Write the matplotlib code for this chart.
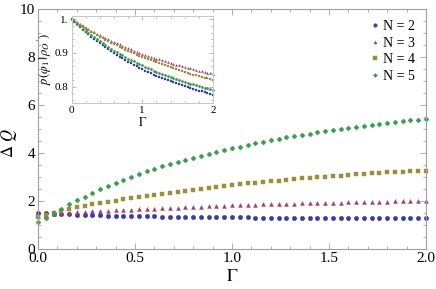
import numpy as np
import matplotlib
matplotlib.use("Agg")
import matplotlib.pyplot as plt
from matplotlib.ticker import MultipleLocator

plt.rcParams["font.family"] = ["Liberation Serif", "DejaVu Serif"]
plt.rcParams["mathtext.fontset"] = "stix"

# Gamma grid (0 .. 2, step 0.04)
gamma = np.linspace(0.0, 2.0, 51)

# main panel: Delta Q
dq_n2 = [1.49, 1.49, 1.47, 1.45, 1.44, 1.43, 1.42, 1.41, 1.40, 1.39, 1.39,
         1.38, 1.37, 1.37, 1.36, 1.36, 1.35, 1.35, 1.34, 1.34, 1.34,
         1.33, 1.33, 1.33, 1.32, 1.32, 1.32, 1.32, 1.31, 1.31, 1.31,
         1.31, 1.31, 1.30, 1.30, 1.30, 1.30, 1.30, 1.29, 1.29, 1.29,
         1.29, 1.29, 1.29, 1.28, 1.28, 1.28, 1.28, 1.28, 1.28, 1.28]
dq_n3 = [1.38, 1.42, 1.45, 1.48, 1.50, 1.53, 1.55, 1.57, 1.58, 1.60, 1.61,
         1.63, 1.64, 1.65, 1.67, 1.68, 1.70, 1.71, 1.72, 1.74, 1.75,
         1.77, 1.78, 1.79, 1.81, 1.82, 1.83, 1.84, 1.85, 1.86, 1.87,
         1.87, 1.88, 1.89, 1.90, 1.91, 1.91, 1.92, 1.93, 1.93, 1.94,
         1.95, 1.95, 1.96, 1.97, 1.97, 1.98, 1.98, 1.99, 1.99, 2.00]
dq_n4 = [1.35, 1.41, 1.49, 1.57, 1.65, 1.73, 1.80, 1.86, 1.92, 1.97, 2.02,
         2.07, 2.11, 2.15, 2.19, 2.23, 2.28, 2.32, 2.37, 2.41, 2.45,
         2.49, 2.54, 2.58, 2.63, 2.68, 2.71, 2.74, 2.76, 2.79, 2.82,
         2.85, 2.88, 2.91, 2.94, 2.96, 2.99, 3.01, 3.04, 3.06, 3.08,
         3.11, 3.13, 3.15, 3.17, 3.19, 3.21, 3.22, 3.24, 3.25, 3.26]
dq_n5 = [1.11, 1.30, 1.49, 1.68, 1.86, 2.03, 2.18, 2.33, 2.48, 2.63, 2.77,
         2.89, 3.01, 3.13, 3.24, 3.34, 3.44, 3.53, 3.62, 3.71, 3.80,
         3.88, 3.96, 4.03, 4.12, 4.20, 4.27, 4.34, 4.41, 4.47, 4.53,
         4.59, 4.65, 4.70, 4.76, 4.81, 4.86, 4.91, 4.96, 5.01, 5.05,
         5.10, 5.14, 5.18, 5.22, 5.26, 5.29, 5.33, 5.36, 5.39, 5.42]

# inset: fidelity p(phi_1 | rho_O')
p_n2 = [1.000, 0.992, 0.984, 0.977, 0.969, 0.962, 0.955, 0.948, 0.941, 0.935, 0.929,
        0.922, 0.916, 0.911, 0.905, 0.900, 0.894, 0.889, 0.884, 0.879, 0.874,
        0.869, 0.865, 0.861, 0.856, 0.852, 0.848, 0.844, 0.840, 0.836, 0.833,
        0.829, 0.826, 0.822, 0.819, 0.816, 0.813, 0.810, 0.807, 0.804, 0.801,
        0.798, 0.796, 0.793, 0.791, 0.788, 0.786, 0.784, 0.781, 0.779, 0.777]
p_n3 = [1.000, 0.995, 0.990, 0.985, 0.980, 0.975, 0.970, 0.966, 0.961, 0.957, 0.952,
        0.948, 0.944, 0.940, 0.936, 0.932, 0.928, 0.925, 0.921, 0.918, 0.914,
        0.911, 0.907, 0.904, 0.901, 0.898, 0.895, 0.892, 0.889, 0.886, 0.883,
        0.881, 0.878, 0.875, 0.873, 0.870, 0.868, 0.865, 0.863, 0.861, 0.859,
        0.856, 0.854, 0.852, 0.850, 0.848, 0.846, 0.844, 0.842, 0.841, 0.839]
p_n4 = [1.000, 0.994, 0.989, 0.983, 0.978, 0.973, 0.968, 0.963, 0.958, 0.953, 0.948,
        0.944, 0.939, 0.935, 0.930, 0.926, 0.922, 0.918, 0.914, 0.910, 0.906,
        0.902, 0.899, 0.895, 0.892, 0.888, 0.885, 0.881, 0.878, 0.875, 0.872,
        0.869, 0.866, 0.863, 0.860, 0.857, 0.854, 0.852, 0.849, 0.846, 0.844,
        0.841, 0.839, 0.836, 0.834, 0.832, 0.830, 0.827, 0.825, 0.823, 0.821]
p_n5 = [1.000, 0.993, 0.985, 0.978, 0.972, 0.965, 0.958, 0.952, 0.946, 0.940, 0.934,
        0.928, 0.923, 0.918, 0.912, 0.907, 0.902, 0.897, 0.893, 0.888, 0.883,
        0.879, 0.875, 0.871, 0.867, 0.863, 0.859, 0.855, 0.851, 0.848, 0.844,
        0.841, 0.838, 0.834, 0.831, 0.828, 0.825, 0.822, 0.820, 0.817, 0.814,
        0.812, 0.809, 0.807, 0.804, 0.802, 0.799, 0.797, 0.795, 0.793, 0.791]

labels = ["N = 2", "N = 3", "N = 4", "N = 5"]
colors = ["#3d3d99", "#99406b", "#998f3d", "#3d9957"]
markers = ["o", "^", "s", "D"]
sizes = [3.2, 2.8, 3.2, 2.6]

frame_col = "#a0a0a0"

fig = plt.figure(figsize=(4.36, 2.89), dpi=100)
ax = fig.add_axes([38 / 436, 40 / 289, 388 / 436, 240 / 289])

for y, lab, c, m, s in zip([dq_n2, dq_n3, dq_n4, dq_n5], labels, colors, markers, sizes):
    ax.plot(gamma, y, linestyle="none", marker=m, ms=s, color=c, mec=c,
            mew=0.3, label=lab, clip_on=False)

ax.set_xlim(0, 2)
ax.set_ylim(0, 10)
ax.xaxis.set_major_locator(MultipleLocator(0.5))
ax.xaxis.set_minor_locator(MultipleLocator(0.1))
ax.yaxis.set_major_locator(MultipleLocator(2))
ax.yaxis.set_minor_locator(MultipleLocator(0.5))
ax.xaxis.set_major_formatter(plt.FuncFormatter(lambda v, p: f"{v:.1f}"))
ax.yaxis.set_major_formatter(plt.FuncFormatter(lambda v, p: f"{v:.0f}"))
ax.tick_params(which="both", direction="in", colors=frame_col, labelcolor="black",
               labelsize=11, top=True, right=True, width=0.6)
ax.tick_params(which="major", length=4, pad=2)
ax.tick_params(which="minor", length=2)
for sp in ax.spines.values():
    sp.set_color(frame_col)
    sp.set_linewidth(0.8)
ax.set_xlabel(r"$\Gamma$", fontsize=13, labelpad=2)
ax.set_ylabel(r"$\Delta\ Q$", fontsize=12)
ax.yaxis.set_label_coords(-0.048, 0.44)

leg = ax.legend(loc="upper right", frameon=False, fontsize=10, markerscale=0.8,
                handlelength=0.6, handletextpad=0.3, labelspacing=0.25,
                borderaxespad=0.4, numpoints=1)

# inset
ins = fig.add_axes([71.5 / 436, 1 - 103 / 289, 141.5 / 436, 87 / 289])
for y, c, m in zip([p_n2, p_n3, p_n4, p_n5], colors, ["s", "^", "s", "D"]):
    ins.plot(gamma, y, linestyle="none", marker=m, ms=1.6, color=c, mec=c,
             mew=0.2, clip_on=False)
ins.set_xlim(0, 2)
ins.set_ylim(0.752, 1.009)
ins.set_xticks([0, 1, 2])
ins.set_xticklabels(["0", "1", "2"])
ins.set_yticks([0.8, 0.9, 1.0])
ins.set_yticklabels(["0.8", "0.9", "1."])
ins.xaxis.set_minor_locator(MultipleLocator(0.2))
ins.yaxis.set_minor_locator(MultipleLocator(0.02))
ins.tick_params(which="both", direction="in", colors=frame_col, labelcolor="black",
                labelsize=8, top=True, right=True, width=0.5, pad=2)
ins.tick_params(which="major", length=3)
ins.tick_params(which="minor", length=1.5)
for sp in ins.spines.values():
    sp.set_color("#c8c8c8")
    sp.set_linewidth(0.7)
ins.set_xlabel(r"$\Gamma$", fontsize=9, labelpad=1)
ins.set_ylabel(r"$p(\varphi_1\,|\,\rho_O{}')$", fontsize=9, labelpad=1)

fig.savefig("out.png", dpi=100)
